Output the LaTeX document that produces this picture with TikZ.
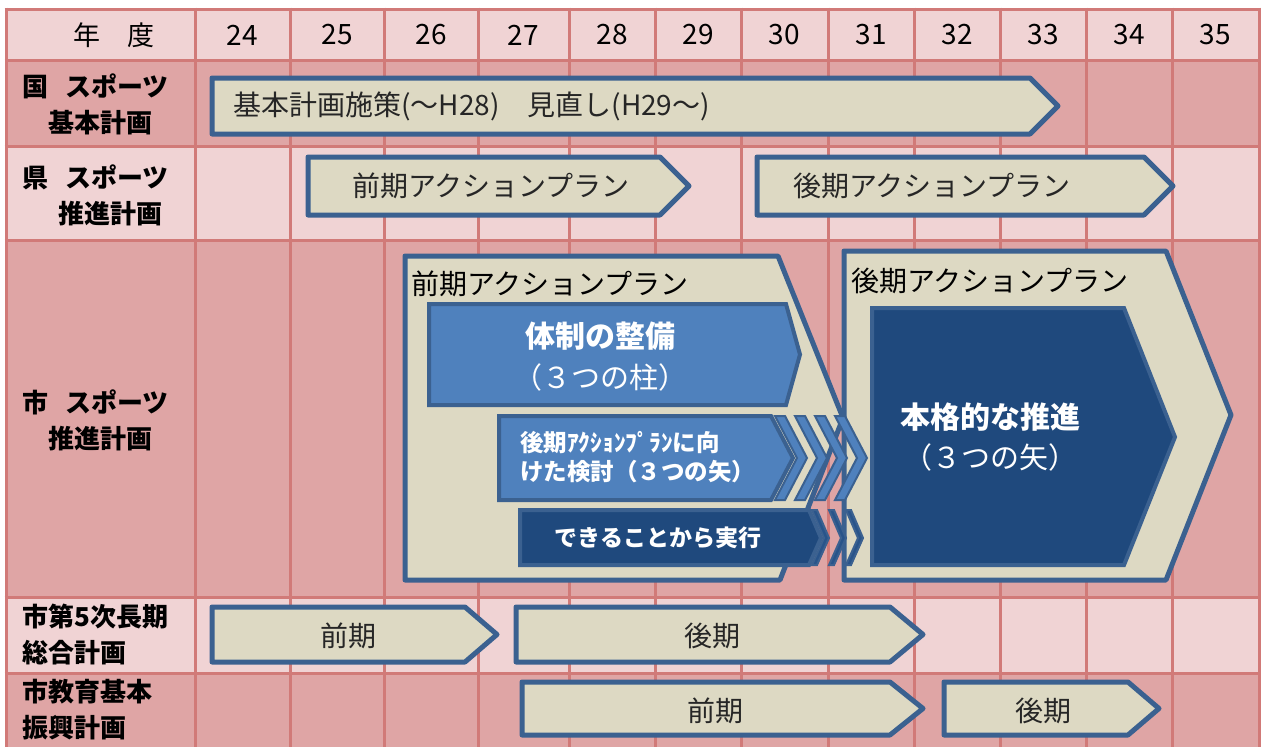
\documentclass[tikz,border=0pt]{standalone}
\usepackage{fontspec}
\setmainfont{Noto Sans CJK JP}
\definecolor{rowlight}{HTML}{F0D3D4}
\definecolor{rowdark}{HTML}{DFA5A5}
\definecolor{gridred}{HTML}{D17A78}
\definecolor{planfill}{HTML}{DDD9C3}
\definecolor{planline}{HTML}{3B6190}
\definecolor{midblue}{HTML}{4F81BD}
\definecolor{navyblue}{HTML}{1F497D}
\definecolor{textgray}{HTML}{262626}

\begin{document}
\begin{tikzpicture}[x=1pt,y=-1pt,
  plan/.style={fill=planfill,draw=planline,line width=5pt,line join=round},
  inner/.style={draw=planline,line width=4pt},
  chev/.style={draw=planline,line width=2pt},
  lbl/.style={anchor=west,align=left,inner sep=0pt,font=\bfseries\fontsize{26}{36}\selectfont},
  ptxt/.style={inner sep=0pt,text=textgray,font=\fontsize{28}{30}\selectfont},
  ttl/.style={anchor=west,inner sep=0pt,font=\fontsize{28}{30}\selectfont},
  wtxt/.style={inner sep=0pt,text=white}]
\useasboundingbox (0,0) rectangle (1261,747);
% table rows
\fill[rowlight] (6,9) rectangle (1259,60);
\fill[rowdark] (6,60) rectangle (1259,146);
\fill[rowlight] (6,146) rectangle (1259,240);
\fill[rowdark] (6,240) rectangle (1259,597);
\fill[rowlight] (6,597) rectangle (1259,673);
\fill[rowdark] (6,673) rectangle (1259,747);
\foreach \x in {6,195,290,384,478,569,655,741,828,914,1000,1086,1172,1259}
  \draw[gridred,line width=3pt] (\x,7.5) -- (\x,747);
\foreach \y in {9,60,146,240,597,673}
  \draw[gridred,line width=3pt] (4.5,\y) -- (1260.5,\y);
% header
\node[inner sep=0pt,font=\fontsize{27}{30}\selectfont] (nendo) at (114,35) {年　度};
\foreach \yr/\xc in {24/242.5,25/337,26/431,27/523.5,28/612,29/698,30/784.5,31/871,32/957,33/1043,34/1129,35/1215.5}
  \node[inner sep=0pt,font=\fontsize{28}{30}\selectfont] (y\yr) at (\xc,35) {\yr};
% row labels
\node[lbl] (kuni) at (22,104) {国\hspace{17pt}スポーツ\\　基本計画};
\node[lbl] (ken) at (22,195) {県\hspace{17pt}スポーツ\\\hspace*{36pt}推進計画};
\node[lbl] (shi) at (22,420) {市\hspace{17pt}スポーツ\\　推進計画};
\node[lbl] (sogo) at (22,635) {市第5次長期\\総合計画};
\node[lbl] (kyoiku) at (22,710) {市教育基本\\振興計画};
% plan bars
\draw[plan] (212,78) -- (1030,78) -- (1058,106) -- (1030,134) -- (212,134) -- cycle;
\draw[plan] (308,157) -- (660,157) -- (689,186) -- (660,215) -- (308,215) -- cycle;
\draw[plan] (757,157) -- (1144,157) -- (1173,186) -- (1144,215) -- (757,215) -- cycle;
\draw[plan] (212,607) -- (465,607) -- (497,634.5) -- (465,662) -- (212,662) -- cycle;
\draw[plan] (516,607) -- (890,607) -- (923,634.5) -- (890,662) -- (516,662) -- cycle;
\draw[plan] (522,682) -- (890,682) -- (923,708.5) -- (890,735) -- (522,735) -- cycle;
\draw[plan] (944,682) -- (1128,682) -- (1159,708.5) -- (1128,735) -- (944,735) -- cycle;
\node[ptxt,anchor=west] (kunitxt) at (233,106) {基本計画施策(～H28)　見直し(H29～)};
\node[ptxt] (kenzen) at (491,186) {前期アクションプラン};
\node[ptxt] (kengo) at (932,186) {後期アクションプラン};
\node[ptxt] (sogozen) at (348,636) {前期};
\node[ptxt] (sogogo) at (712,636) {後期};
\node[ptxt] (kyozen) at (715,711) {前期};
\node[ptxt] (kyogo) at (1043,711) {後期};
% city plan, first half
\draw[plan] (405,256) -- (778,256) -- (843,418) -- (780,580) -- (405,580) -- cycle;
\node[ttl] (zenki) at (411,284) {前期アクションプラン};
\draw[inner,fill=midblue] (429,304) -- (786,304) -- (800,354.5) -- (786,405) -- (429,405) -- cycle;
\draw[inner,fill=midblue] (499,416) -- (771,416) -- (793,458) -- (771,500) -- (499,500) -- cycle;
\draw[inner,fill=navyblue] (520,510) -- (809,510) -- (821,538) -- (809,565) -- (520,565) -- cycle;
\node[wtxt,align=center,font=\fontsize{29}{41}\selectfont] (taisei) at (600,357)
  {{\bfseries\fontsize{30}{41}\selectfont 体制の整備}\\（３つの柱）};
\node[wtxt,anchor=west,align=left,font=\bfseries\fontsize{23.5}{29}\selectfont] (kento) at (520,457)
  {後期ｱｸｼｮﾝﾌﾟﾗﾝに向\\けた検討（３つの矢）};
\node[wtxt,font=\bfseries\fontsize{23}{28}\selectfont] (jikko) at (658,538) {できることから実行};
% city plan, second half
\draw[plan] (844,251) -- (1166,251) -- (1231,415) -- (1166,580) -- (844,580) -- cycle;
\node[ttl] (koki) at (851,281) {後期アクションプラン};
\draw[inner,fill=navyblue] (872,308) -- (1124,308) -- (1175,437) -- (1124,565) -- (872,565) -- cycle;
\node[wtxt,align=center,font=\fontsize{29}{40}\selectfont] (honkaku) at (990,437)
  {{\bfseries\fontsize{30}{40}\selectfont 本格的な推進}\\（３つの矢）};
% chevrons
\foreach \c in {775,795,815,835}
  \draw[chev,fill=midblue] (\c,416) -- ++(10,0) -- ++(22,42) -- ++(-22,42) -- ++(-10,0) -- ++(22,-42) -- cycle;
\foreach \c in {812,829,846}
  \draw[chev,fill=navyblue!80!midblue] (\c,510) -- ++(5,0) -- ++(12,28) -- ++(-12,27) -- ++(-5,0) -- ++(12,-27) -- cycle;
\end{tikzpicture}
\end{document}
